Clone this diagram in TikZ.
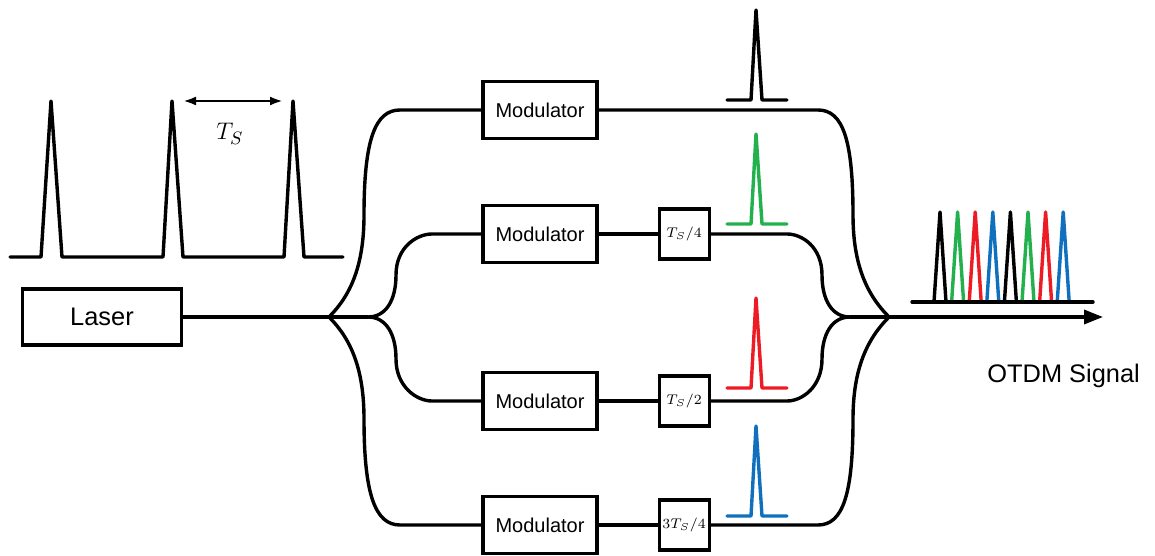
\documentclass[tikz,border=0pt]{standalone}
\usepackage{fontspec}
\setmainfont{Liberation Sans}
\usepackage{tikz}
\usetikzlibrary{positioning, arrows.meta}
\definecolor{pulsegreen}{RGB}{34,177,76}
\definecolor{pulsered}{RGB}{237,28,36}
\definecolor{pulseblue}{RGB}{16,112,190}
\tikzset{
fibre/.style={line width=1.7pt}, % waveguide lines between the blocks
block/.style={draw, line width=1.6pt, minimum width=57pt, minimum height=28.5pt, inner sep=0pt, font=\fontsize{10}{12}\selectfont}, % modulator boxes
delay/.style={draw, line width=1.6pt, minimum width=25pt, minimum height=25pt, inner sep=0pt, font=\fontsize{7}{8}\selectfont}, % delay lines
pulse/.style={line width=1.7pt, line join=round, line cap=round}, % pulse shapes
}

\begin{document}
\begin{tikzpicture}[x=0.5pt, y=-0.5pt]
    \useasboundingbox (0,0) rectangle (1155,556);
    % source and the four branches
    \node[block, minimum width=79.5pt, minimum height=28pt, font=\fontsize{12.7}{15}\selectfont] (laser) at (102,317) {Laser};
    \node[block] (mod1) at (540,110) {Modulator};
    \node[block] (mod2) at (540,234) {Modulator};
    \node[block] (mod3) at (540,401) {Modulator};
    \node[block] (mod4) at (540,525) {Modulator};
    \node[delay, right=29.5pt of mod2] (d1) {$T_S/4$};
    \node[delay, right=29.5pt of mod3] (d2) {$T_S/2$};
    \node[delay, right=29.5pt of mod4] (d3) {$3T_S/4$};
    \coordinate (split) at (329,317);
    \coordinate (splitin) at (368,317);
    \coordinate (combin) at (850,317);
    \coordinate (comb) at (889,317);
    \coordinate (otdmout) at (1103,317);
    \node[anchor=base west, inner sep=0pt, font=\fontsize{12.7}{15}\selectfont] (otdm) at (987,382) {OTDM Signal};

    % splitter
    \draw[fibre] (laser) -- (split) -- (splitin);
    \draw[fibre] (split) .. controls +(22,-22) and +(0,50) .. (364,215) .. controls +(0,-75) and +(-25,0) .. (400,110) -- (mod1);
    \draw[fibre] (splitin) .. controls +(18,0) and +(0,25) .. (396,275) .. controls +(0,-28) and +(-15,0) .. (432,234) -- (mod2);
    \draw[fibre] (splitin) .. controls +(18,0) and +(0,-25) .. (396,359) .. controls +(0,28) and +(-15,0) .. (432,401) -- (mod3);
    \draw[fibre] (split) .. controls +(22,22) and +(0,-50) .. (364,419) .. controls +(0,75) and +(-25,0) .. (400,525) -- (mod4);
    \draw[fibre] (mod2) -- (d1);
    \draw[fibre] (mod3) -- (d2);
    \draw[fibre] (mod4) -- (d3);

    % combiner
    \draw[fibre] (mod1) -- (818,110) .. controls +(25,0) and +(0,-75) .. (853,215) .. controls +(0,50) and +(-22,-22) .. (comb);
    \draw[fibre] (d1) -- (787,234) .. controls +(15,0) and +(0,-28) .. (822,275) .. controls +(0,25) and +(-18,0) .. (combin);
    \draw[fibre] (d2) -- (787,401) .. controls +(15,0) and +(0,28) .. (822,359) .. controls +(0,-25) and +(-18,0) .. (combin);
    \draw[fibre] (d3) -- (818,525) .. controls +(25,0) and +(0,75) .. (853,419) .. controls +(0,-50) and +(-22,22) .. (comb);
    \draw[fibre, -{Triangle[length=9.5pt,width=7pt]}] (combin) -- (comb) -- (otdmout);

    % laser pulse train
    \draw[pulse] (10,257) -- (41,257) -- (51,101) -- (62,257) -- (163,257) -- (172,101) -- (183,257) -- (284,257) -- (293,101) -- (304,257) -- (343,257);
    \coordinate (ta) at (183,101);
    \coordinate (tb) at (283,101);
    \draw[line width=1.4pt, {Latex[length=6.5pt,width=4.5pt]}-{Latex[length=6.5pt,width=4.5pt]}] (ta) -- (tb);
    \node[anchor=base, inner sep=0pt, font=\fontsize{12.5}{14}\selectfont] (tslabel) at (230,140) {$T_S$};

    % pulses on each branch
    \foreach \b/\c in {100/black, 224/pulsegreen, 388/pulsered, 516/pulseblue}
        \draw[pulse, \c] (727,\b) -- (751,\b) -- (756,\b-90) -- (762,\b) -- (787,\b);

    % interleaved output
    \foreach \c [count=\i from 0] in {black, pulsegreen, pulsered, pulseblue, black, pulsegreen, pulsered, pulseblue}
        \draw[pulse, \c] (934+17.6*\i,302) -- (940+17.6*\i,212) -- (946+17.6*\i,302);
    \draw[pulse] (912,302) -- (1093,302);
\end{tikzpicture}
\end{document}
